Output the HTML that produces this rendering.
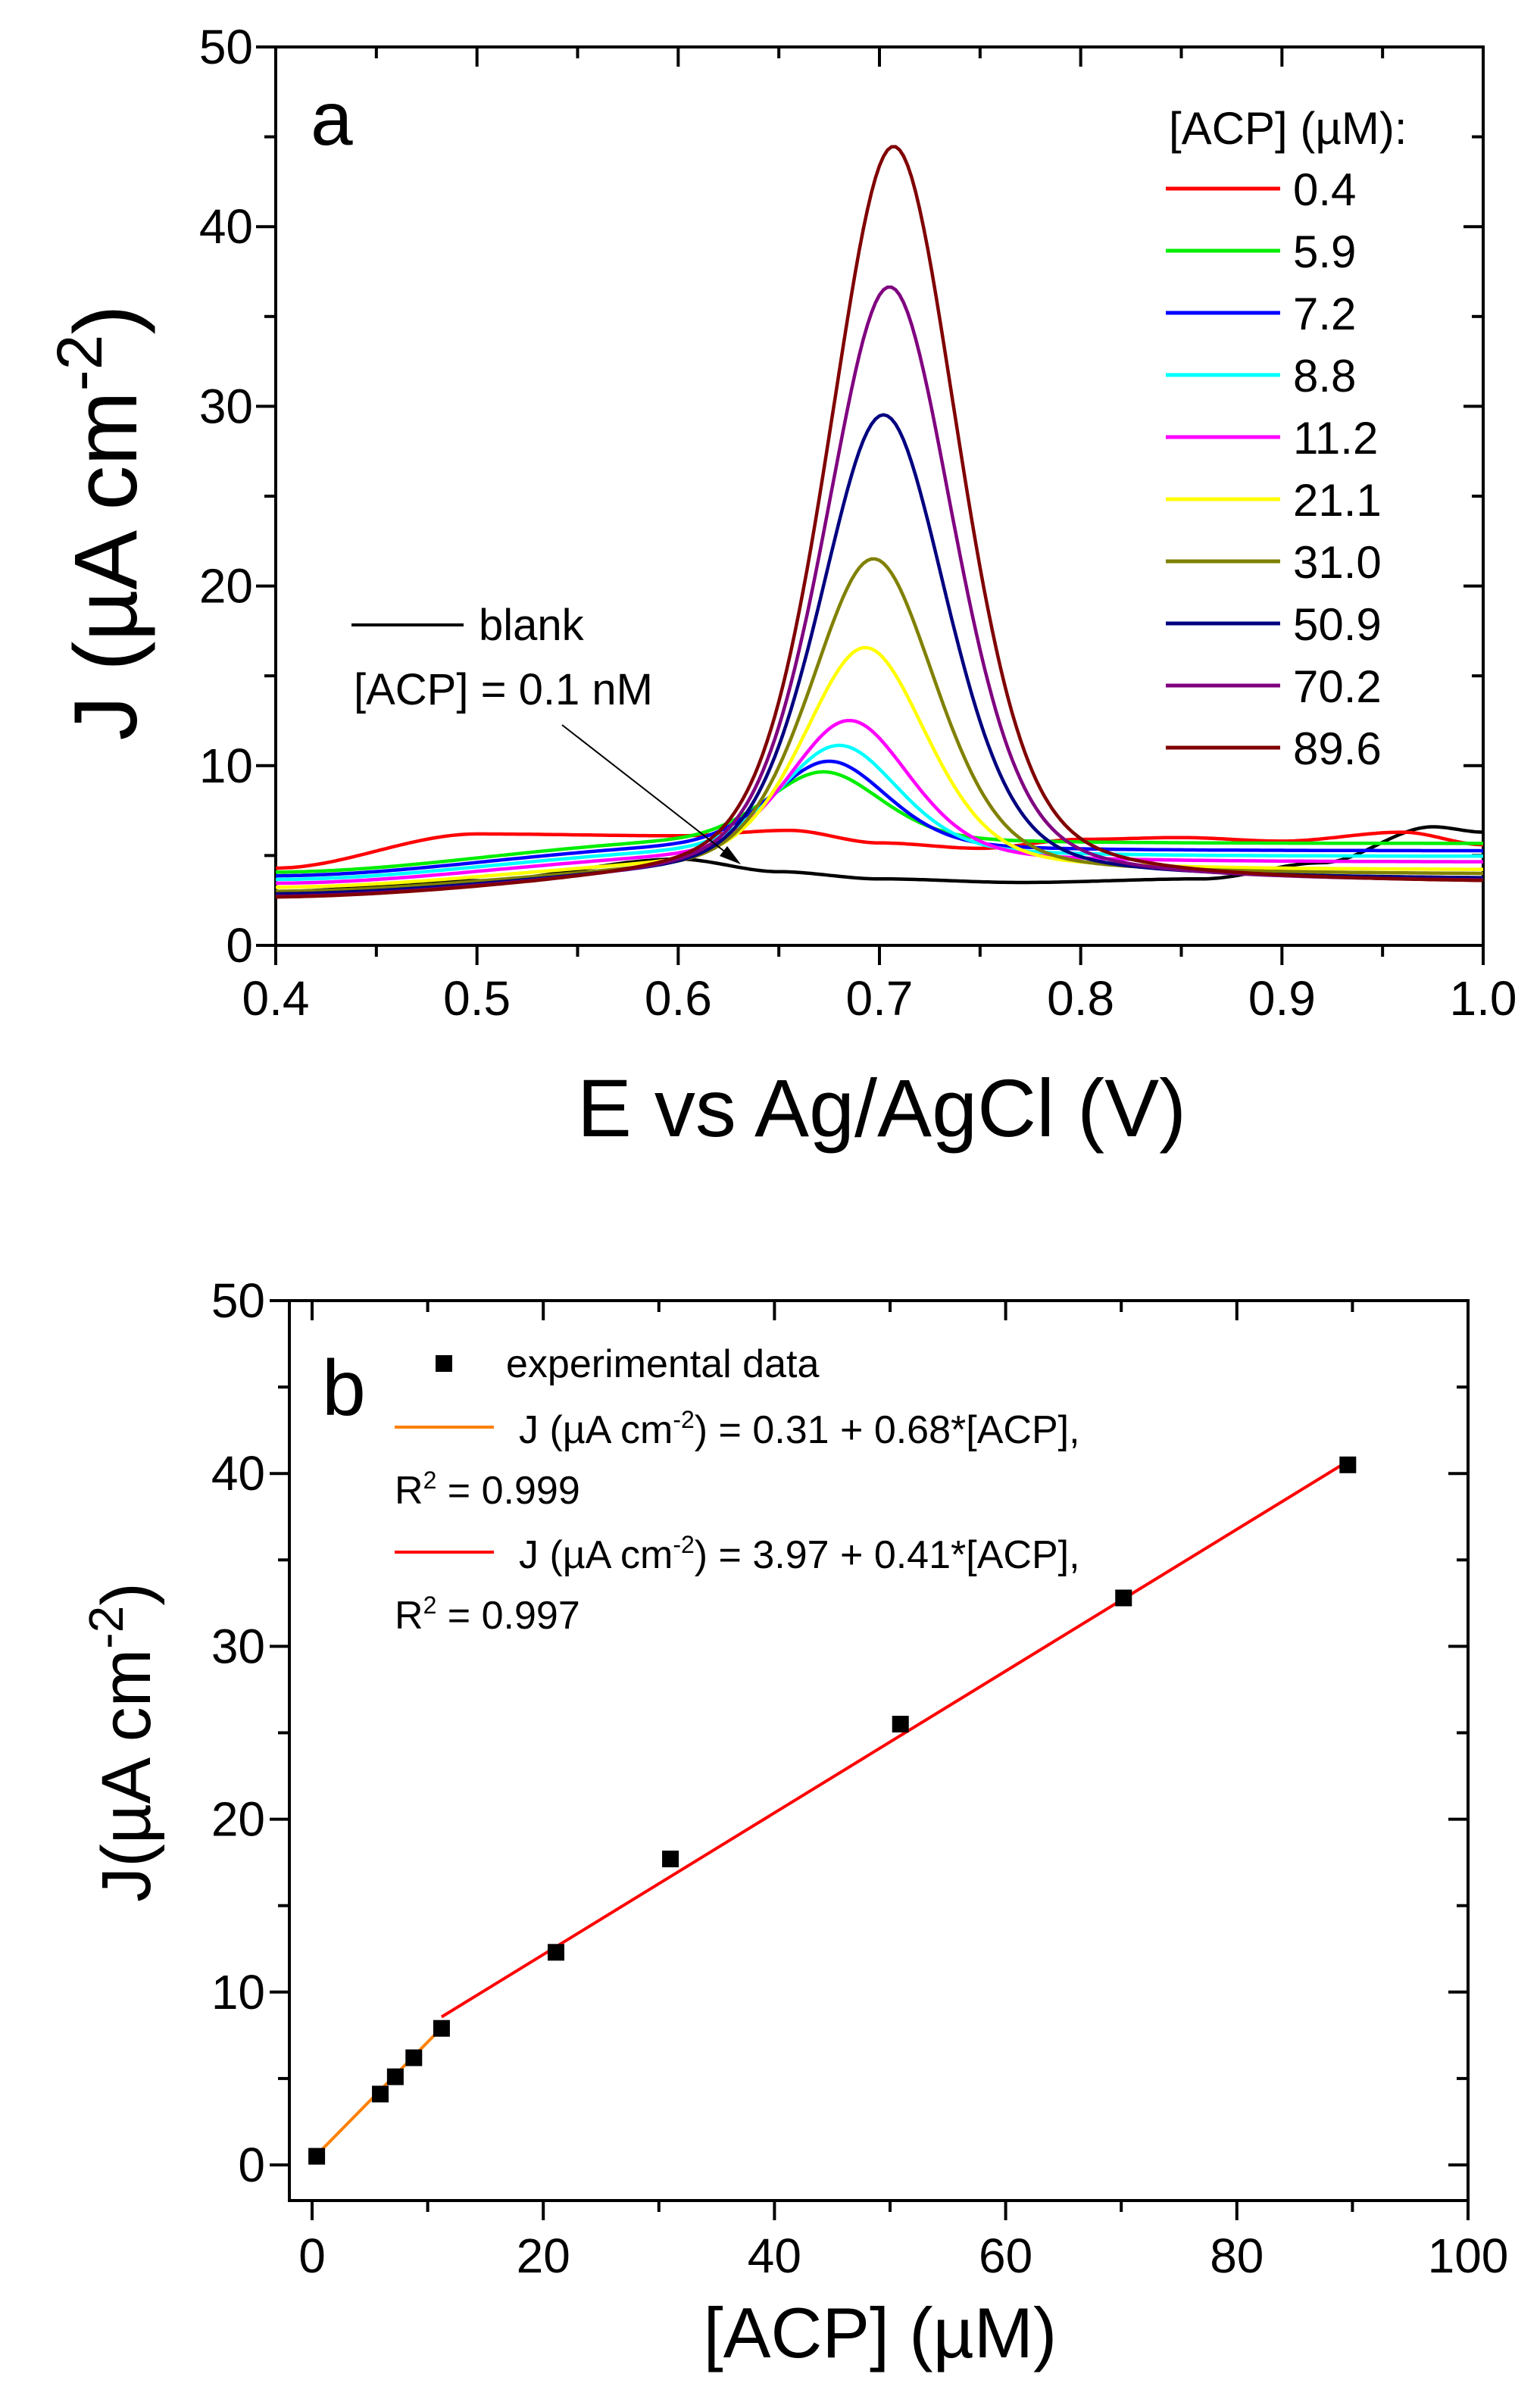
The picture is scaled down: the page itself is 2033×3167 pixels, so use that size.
<!DOCTYPE html>
<html><head><meta charset="utf-8"><style>
html,body{margin:0;padding:0;background:#fff}
svg{display:block}
text{font-family:"Liberation Sans",Arial,sans-serif;fill:#000}
</style></head><body>
<svg id="s" width="2033" height="3167" xmlns="http://www.w3.org/2000/svg"></svg>
<script>
const S=document.getElementById('s');let h='';
const ax=e=>364+(e-0.4)/0.6*1594, ay=j=>1248-j*23.72;
h+=`<rect x="364" y="62" width="1594" height="1186" fill="none" stroke="#000" stroke-width="4"/>`;
for(let i=0;i<=12;i++){const e=0.4+i*0.05,x=ax(e),mj=i%2==0,L=mj?26:15;
 h+=`<line x1="${x}" y1="1248" x2="${x}" y2="${1248+L}" stroke="#000" stroke-width="4"/>`;
 h+=`<line x1="${x}" y1="62" x2="${x}" y2="${62+L}" stroke="#000" stroke-width="4"/>`;
 if(mj)h+=`<text x="${x}" y="1340" font-size="64" text-anchor="middle">${e.toFixed(1)}</text>`;}
for(let i=0;i<=10;i++){const j=i*5,y=ay(j),mj=i%2==0,L=mj?26:15;
 h+=`<line x1="364" y1="${y}" x2="${364-L}" y2="${y}" stroke="#000" stroke-width="4"/>`;
 h+=`<line x1="1958" y1="${y}" x2="${1958-L}" y2="${y}" stroke="#000" stroke-width="4"/>`;
 if(mj)h+=`<text x="${334}" y="${y+22}" font-size="64" text-anchor="end">${j}</text>`;}
h+=`<text x="1164" y="1500" font-size="108" text-anchor="middle">E vs Ag/AgCl (V)</text>`;
h+=`<text transform="translate(180,690) rotate(-90)" font-size="118" text-anchor="middle">J (µA cm<tspan dy="-46" font-size="84">-2</tspan><tspan dy="46">)</tspan></text>`;
h+=`<text x="410" y="191" font-size="100">a</text>`;
function interp(pts,e){for(let i=0;i<pts.length-1;i++){if(e<=pts[i+1][0]){const t=(e-pts[i][0])/(pts[i+1][0]-pts[i][0]);const s=t*t*(3-2*t);return pts[i][1]+(pts[i+1][1]-pts[i][1])*s;}}return pts[pts.length-1][1];}
function path(f,col){let d='';for(let e=0.4;e<=1.0001;e+=0.002){d+=(d?'L':'M')+ax(e).toFixed(1)+','+ay(f(e)).toFixed(1);}return `<path d="${d}" fill="none" stroke="${col}" stroke-width="4.5"/>`;}
const pk=[
['#00ee00',4.1,5.6,5.7,9.7,0.672,0.07],
['#0000ff',3.9,5.3,5.3,10.3,0.675,0.07],
['#00ffff',3.7,5.0,5.0,11.2,0.68,0.071],
['#ff00ff',3.5,4.7,4.7,12.6,0.685,0.072],
['#ffff00',3.3,4.3,4.3,16.7,0.693,0.073],
['#808000',3.1,4.0,4.1,21.7,0.697,0.074],
['#000080',3.0,3.8,3.9,29.8,0.702,0.075],
['#800080',2.9,3.7,3.8,37.0,0.705,0.076],
['#800000',2.9,3.6,3.8,44.9,0.707,0.077]];
h+=path(e=>interp([[0.4,3.0],[0.5,3.6],[0.6,4.8],[0.65,4.1],[0.7,3.7],[0.77,3.5],[0.86,3.7],[0.92,4.6],[0.975,6.6],[1.0,6.3]],e),'#000');
h+=path(e=>interp([[0.4,4.3],[0.5,6.2],[0.6,6.1],[0.655,6.4],[0.7,5.7],[0.75,5.4],[0.8,5.9],[0.85,6.0],[0.9,5.8],[0.96,6.3],[1.0,5.6]],e),'#ff0000');
for(const [c,L,M,R,P,C,W] of pk){
 const B=e=>interp([[0.4,L],[0.6,M],[0.8,R],[1.0,R]],e);
 const A=P-B(C);
 const f=e=>{const d=e-C,s=W/2.3548,g=Math.exp(-d*d/(2*s*s)),lz=1/(1+(2*d/W)**2);return B(e)+A*(0.65*g+0.35*lz)-A*0.35*0.03;};
 h+=path(f,c);}
h+=`<text x="1543" y="190" font-size="60">[ACP] (µM):</text>`;
const lab=['0.4','5.9','7.2','8.8','11.2','21.1','31.0','50.9','70.2','89.6'];
const lc=['#ff0000','#00ee00','#0000ff','#00ffff','#ff00ff','#ffff00','#808000','#000080','#800080','#800000'];
lab.forEach((t,i)=>{const y=249+i*82;h+=`<line x1="1539" y1="${y}" x2="1690" y2="${y}" stroke="${lc[i]}" stroke-width="5"/><text x="1707" y="${y+22}" font-size="60">${t}</text>`;});
h+=`<line x1="464" y1="825" x2="612" y2="825" stroke="#000" stroke-width="4"/><text x="632" y="845" font-size="58">blank</text>`;
h+=`<text x="467" y="930" font-size="58">[ACP] = 0.1 nM</text>`;
h+=`<line x1="742" y1="957" x2="968" y2="1133" stroke="#000" stroke-width="2"/><path d="M978,1141 L950,1130 L960,1117 Z" fill="#000"/>`;
const bx=v=>412+v/100*1526, by=v=>2858-v*22.82;
h+=`<rect x="382" y="1717" width="1556" height="1188" fill="none" stroke="#000" stroke-width="4"/>`;
for(let i=0;i<=10;i++){const v=i*10,x=bx(v),mj=i%2==0,L=mj?26:15;
 h+=`<line x1="${x}" y1="2905" x2="${x}" y2="${2905+L}" stroke="#000" stroke-width="4"/>`;
 h+=`<line x1="${x}" y1="1717" x2="${x}" y2="${1717+L}" stroke="#000" stroke-width="4"/>`;
 if(mj)h+=`<text x="${x}" y="3000" font-size="64" text-anchor="middle">${v}</text>`;}
for(let i=0;i<=10;i++){const v=i*5,y=by(v),mj=i%2==0,L=mj?26:15;
 h+=`<line x1="382" y1="${y}" x2="${382-L}" y2="${y}" stroke="#000" stroke-width="4"/>`;
 h+=`<line x1="1938" y1="${y}" x2="${1938-L}" y2="${y}" stroke="#000" stroke-width="4"/>`;
 if(mj)h+=`<text x="${350}" y="${y+22}" font-size="64" text-anchor="end">${v}</text>`;}
h+=`<text x="1162" y="3112" font-size="94" text-anchor="middle">[ACP] (µM)</text>`;
h+=`<text transform="translate(198,2300) rotate(-90)" font-size="92" text-anchor="middle">J(µA cm<tspan dy="-36" font-size="64">-2</tspan><tspan dy="36">)</tspan></text>`;
h+=`<text x="425" y="1868" font-size="104">b</text>`;
h+=`<line x1="${bx(0.4)}" y1="${by(0.31+0.68*0.4)}" x2="${bx(11.2)}" y2="${by(0.31+0.68*11.2)}" stroke="#ff8000" stroke-width="4"/>`;
h+=`<line x1="${bx(11.2)}" y1="${by(3.97+0.41*11.2)}" x2="${bx(89.6)}" y2="${by(3.97+0.41*89.6)}" stroke="#ff0000" stroke-width="4"/>`;
[[0.4,0.5],[5.9,4.1],[7.2,5.1],[8.8,6.2],[11.2,7.9],[21.1,12.3],[31,17.7],[50.9,25.5],[70.2,32.8],[89.6,40.5]].forEach(([a,b])=>{h+=`<rect x="${bx(a)-11}" y="${by(b)-11}" width="22" height="22" fill="#000"/>`;});
h+=`<rect x="575" y="1789" width="22" height="22" fill="#000"/><text x="668" y="1818" font-size="52">experimental data</text>`;
h+=`<line x1="521" y1="1884" x2="652" y2="1884" stroke="#ff8000" stroke-width="4"/><text x="685" y="1905" font-size="52">J (µA cm<tspan dy="-20" font-size="32">-2</tspan><tspan dy="20">) = 0.31 + 0.68*[ACP],</tspan></text>`;
h+=`<text x="521" y="1985" font-size="52">R<tspan dy="-20" font-size="32">2</tspan><tspan dy="20"> = 0.999</tspan></text>`;
h+=`<line x1="521" y1="2049" x2="652" y2="2049" stroke="#ff0000" stroke-width="4"/><text x="685" y="2070" font-size="52">J (µA cm<tspan dy="-20" font-size="32">-2</tspan><tspan dy="20">) = 3.97 + 0.41*[ACP],</tspan></text>`;
h+=`<text x="521" y="2150" font-size="52">R<tspan dy="-20" font-size="32">2</tspan><tspan dy="20"> = 0.997</tspan></text>`;
S.innerHTML=h;
</script>
</body></html>
